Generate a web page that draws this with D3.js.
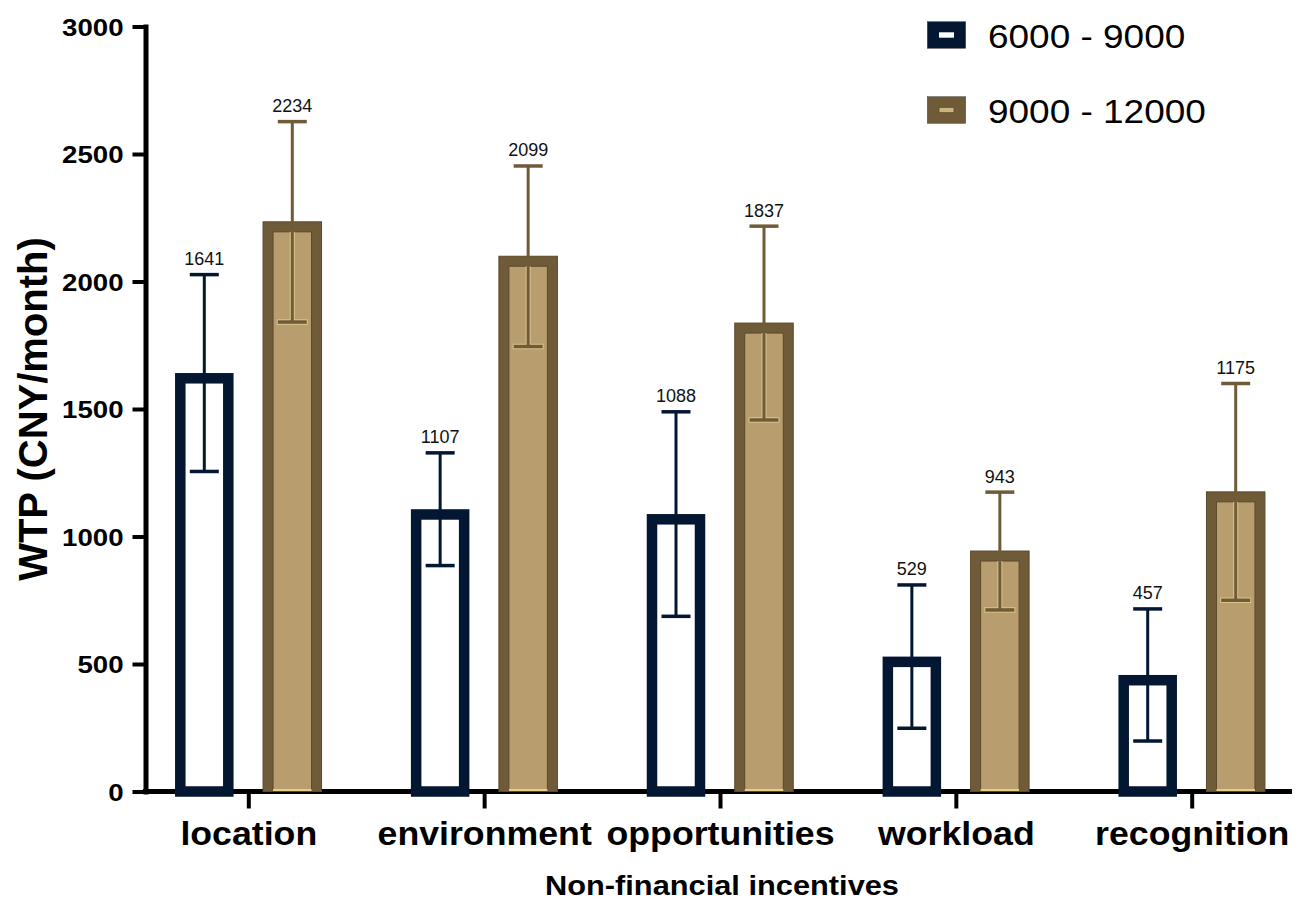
<!DOCTYPE html>
<html>
<head>
<meta charset="utf-8">
<script src="https://cdn.jsdelivr.net/npm/d3@7/dist/d3.min.js"></script>
<style>
  html, body { margin: 0; padding: 0; background: #fff; }
  svg { display: block; font-family: "Liberation Sans", Arial, Helvetica, sans-serif; }
</style>
</head>
<body>
<svg id="chart" width="1299" height="901"></svg>
<script>
// Willingness to pay by non-financial incentive, two salary groups
const categories = ["location", "environment", "opportunities", "workload", "recognition"];
const seriesNames = ["6000 - 9000", "9000 - 12000"];
const lowGroup = [1641, 1107, 1088, 529, 457];
const highGroup = [2234, 2099, 1837, 943, 1175];
const lowGroupErr = [386, 221, 401, 281, 259];
const highGroupErr = [393, 354, 380, 231, 425];
const yTicks = [0, 500, 1000, 1500, 2000, 2500, 3000];

const NAVY = "#031632";
const BROWN = "#6f5b37";
const TAN = "#b89d6e";

const svg = d3.select("#chart");

const x = d3.scalePoint().domain(categories).range([248.3, 1191.7]);
const y = d3.scaleLinear().domain([0, 3000]).range([791.5, 26.5]);

const barW = 58.5;
const offset = 44;
const capW = 29;

// horizontal stretch used for the wide lettering
function stretch(sel, k) {
  sel.each(function () {
    const len = this.getComputedTextLength();
    d3.select(this).attr("textLength", len * k).attr("lengthAdjust", "spacingAndGlyphs");
  });
}

// ---- axes ----
const yAxis = svg.append("g")
  .attr("transform", "translate(145.5,0)")
  .call(d3.axisLeft(y).tickValues(yTicks).tickFormat(d3.format("d"))
    .tickSize(13).tickSizeOuter(0).tickPadding(9));
yAxis.select(".domain").attr("stroke", "#000").attr("stroke-width", 5).attr("stroke-linecap", "square");
yAxis.selectAll(".tick line").attr("stroke", "#000").attr("stroke-width", 4);
yAxis.selectAll(".tick text")
  .attr("fill", "#000").style("font-size", "24px").style("font-weight", "bold")
  .attr("font-family", null).attr("dy", "0.36em")
  .call(stretch, 1.15);

const xAxis = svg.append("g")
  .attr("transform", "translate(0,791.5)")
  .call(d3.axisBottom(x).tickSize(17).tickSizeOuter(0).tickPadding(0));
xAxis.select(".domain").remove();
xAxis.append("line")
  .attr("x1", 143).attr("x2", 1292).attr("y1", 0).attr("y2", 0)
  .attr("stroke", "#000").attr("stroke-width", 5);
xAxis.selectAll(".tick line").attr("stroke", "#000").attr("stroke-width", 4);
xAxis.selectAll(".tick text")
  .attr("fill", "#000").style("font-size", "34px").style("font-weight", "bold")
  .attr("font-family", null).attr("dy", null).attr("y", 53.5)
  .call(stretch, 1.05);

// ---- bars ----
const rows = categories.map((c, i) => ({
  cat: c,
  low: lowGroup[i], lowErr: lowGroupErr[i],
  high: highGroup[i], highErr: highGroupErr[i]
}));

const plot = svg.append("g");

// 6000 - 9000: hollow navy bars
rows.forEach(d => {
  const cx = x(d.cat) - offset;
  const g = plot.append("g");
  const sw = 10.5;
  g.append("rect")
    .attr("x", cx - barW / 2 + sw / 2)
    .attr("y", y(d.low) + sw / 2)
    .attr("width", barW - sw)
    .attr("height", y(0) - y(d.low) - sw / 2)
    .attr("fill", "#fff")
    .attr("stroke", NAVY)
    .attr("stroke-width", sw);
  // error bar
  g.append("line")
    .attr("x1", cx).attr("x2", cx)
    .attr("y1", y(d.low + d.lowErr)).attr("y2", y(d.low - d.lowErr))
    .attr("stroke", NAVY).attr("stroke-width", 3);
  [d.low + d.lowErr, d.low - d.lowErr].forEach(v => {
    g.append("line")
      .attr("x1", cx - capW / 2).attr("x2", cx + capW / 2)
      .attr("y1", y(v)).attr("y2", y(v))
      .attr("stroke", NAVY).attr("stroke-width", 3.5);
  });
  g.append("text")
    .attr("x", cx).attr("y", y(d.low + d.lowErr) - 9.5)
    .attr("text-anchor", "middle")
    .style("font-size", "18px").attr("fill", "#111")
    .text(d.low);
});

// 9000 - 12000: filled tan bars with dark border
rows.forEach(d => {
  const cx = x(d.cat) + offset;
  const g = plot.append("g");
  const top = y(d.high);
  const bw = 10;
  g.append("rect")
    .attr("x", cx - barW / 2).attr("y", top)
    .attr("width", barW).attr("height", y(0) - top)
    .attr("fill", BROWN).attr("stroke", "#5a4828").attr("stroke-width", 1);
  g.append("rect")
    .attr("x", cx - barW / 2 + bw).attr("y", top + bw)
    .attr("width", barW - 2 * bw).attr("height", y(0) - top - bw - 1.5)
    .attr("fill", TAN).attr("stroke", "#5b4a2b").attr("stroke-width", 1);
  g.append("line")
    .attr("x1", cx - barW / 2 + bw).attr("x2", cx + barW / 2 - bw)
    .attr("y1", y(0) - 1.5).attr("y2", y(0) - 1.5)
    .attr("stroke", "#e6cf8c").attr("stroke-width", 2);
  const hi = d.high + d.highErr, lo = d.high - d.highErr;
  // light halo where the whisker crosses the inner panel
  g.append("line")
    .attr("x1", cx).attr("x2", cx)
    .attr("y1", top + bw).attr("y2", y(lo))
    .attr("stroke", "#d9c38c").attr("stroke-width", 5);
  g.append("line")
    .attr("x1", cx - capW / 2 - 1).attr("x2", cx + capW / 2 + 1)
    .attr("y1", y(lo)).attr("y2", y(lo))
    .attr("stroke", "#d9c38c").attr("stroke-width", 5.5);
  g.append("line")
    .attr("x1", cx).attr("x2", cx)
    .attr("y1", y(hi)).attr("y2", y(lo))
    .attr("stroke", BROWN).attr("stroke-width", 3);
  [hi, lo].forEach(v => {
    g.append("line")
      .attr("x1", cx - capW / 2).attr("x2", cx + capW / 2)
      .attr("y1", y(v)).attr("y2", y(v))
      .attr("stroke", BROWN).attr("stroke-width", 3.5);
  });
  g.append("text")
    .attr("x", cx).attr("y", y(hi) - 9.5)
    .attr("text-anchor", "middle")
    .style("font-size", "18px").attr("fill", "#111")
    .text(d.high);
});

// ---- axis titles ----
svg.append("text")
  .attr("x", 722).attr("y", 895)
  .attr("text-anchor", "middle")
  .style("font-size", "28px").style("font-weight", "bold")
  .attr("textLength", 354).attr("lengthAdjust", "spacingAndGlyphs")
  .text("Non-financial incentives");

svg.append("text")
  .attr("transform", "translate(47,409) rotate(-90)")
  .attr("text-anchor", "middle")
  .style("font-size", "40px").style("font-weight", "bold")
  .text("WTP (CNY/month)");

// ---- legend ----
const legend = svg.append("g");
const legendRows = [
  { name: seriesNames[0], outer: NAVY, inner: "#fff", innerStroke: "none", y: 21.7 },
  { name: seriesNames[1], outer: BROWN, inner: "#cbb37f", innerStroke: "#5b4a2b", y: 96.7 }
];
legendRows.forEach(r => {
  legend.append("rect")
    .attr("x", 927.3).attr("y", r.y).attr("width", 38.4).attr("height", 26.6)
    .attr("fill", r.outer).attr("stroke", "#444").attr("stroke-width", 0.5);
  legend.append("rect")
    .attr("x", 939).attr("y", r.y + 10.6).attr("width", 15).attr("height", 5.4)
    .attr("fill", r.inner).attr("stroke", r.innerStroke).attr("stroke-width", 0.8);
  legend.append("text")
    .attr("x", 988).attr("y", r.y + 26.6)
    .style("font-size", "33px").attr("fill", "#000")
    .text(r.name)
    .call(stretch, 1.12);
});
</script>
</body>
</html>
